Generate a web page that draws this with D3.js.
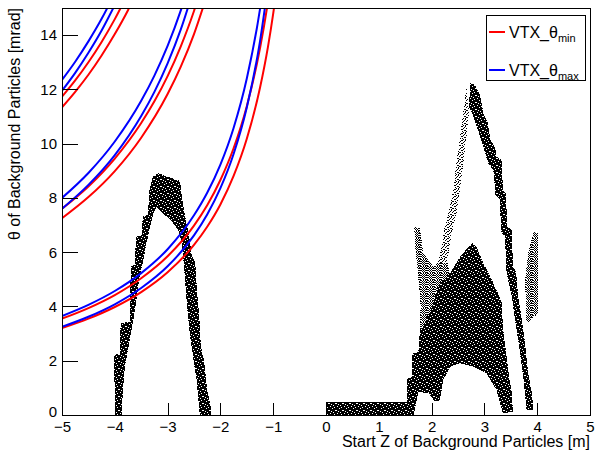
<!DOCTYPE html>
<html>
<head>
<meta charset="utf-8">
<script src="https://cdn.jsdelivr.net/npm/d3@7"></script>
<style>
body { margin: 0; background: #fff; }
text { font-family: "Liberation Sans", Arial, Helvetica, sans-serif; }
</style>
</head>
<body>
<svg id="chart" width="596" height="452"></svg>
<script>
// VTX acceptance curves, [start z (m), theta (mrad)]
const vtxMinCurves = [
  [[-5, 11.73], [-4.75, 12.33], [-4.5, 13.00], [-4.25, 13.75], [-4, 14.59], [-3.75, 15.54]],
  [[-5, 11.34], [-4.75, 11.91], [-4.5, 12.54], [-4.25, 13.25], [-4, 14.04], [-3.75, 14.92], [-3.5, 15.93]],
  [[-5, 7.60], [-4.5, 8.42], [-4, 9.45], [-3.5, 10.76], [-3.25, 11.56], [-3, 12.49], [-2.75, 13.59], [-2.5, 14.89], [-2.25, 16.47]],
  [[-5, 7.25], [-4.5, 8.03], [-4, 8.99], [-3.5, 10.22], [-3, 11.83], [-2.75, 12.84], [-2.5, 14.04], [-2.25, 15.50]],
  [[-5, 3.55], [-4.5, 3.94], [-4, 4.42], [-3.5, 5.04], [-3, 5.85], [-2.5, 6.98], [-2.25, 7.73], [-2, 8.66], [-1.75, 9.83], [-1.5, 11.38], [-1.25, 13.51], [-1.1, 15.22], [-1, 16.62]],
  [[-5, 3.20], [-4.5, 3.55], [-4, 3.98], [-3.5, 4.53], [-3, 5.26], [-2.5, 6.27], [-2.25, 6.94], [-2, 7.76], [-1.75, 8.81], [-1.5, 10.18], [-1.25, 12.06], [-1.1, 13.56], [-1, 14.79], [-0.9, 16.27]]
];
const vtxMaxCurves = [
  [[-5, 12.35], [-4.75, 13.02], [-4.5, 13.77], [-4.25, 14.60], [-4, 15.55]],
  [[-5, 11.95], [-4.75, 12.61], [-4.5, 13.35], [-4.25, 14.17], [-4, 15.11]],
  [[-5, 8.00], [-4.5, 8.92], [-4, 10.08], [-3.5, 11.58], [-3.25, 12.51], [-3, 13.60], [-2.75, 14.91], [-2.5, 16.49]],
  [[-5, 7.60], [-4.5, 8.48], [-4, 9.58], [-3.5, 11.02], [-3.25, 11.91], [-3, 12.96], [-2.75, 14.21], [-2.5, 15.73]],
  [[-5, 3.65], [-4.5, 4.06], [-4, 4.57], [-3.5, 5.23], [-3, 6.11], [-2.5, 7.36], [-2.25, 8.19], [-2, 9.23], [-1.75, 10.58], [-1.5, 12.40], [-1.25, 14.96], [-1.1, 17.08]],
  [[-5, 3.25], [-4.5, 3.62], [-4, 4.08], [-3.5, 4.68], [-3, 5.48], [-2.5, 6.62], [-2.25, 7.39], [-2, 8.36], [-1.75, 9.62], [-1.5, 11.33], [-1.25, 13.77], [-1.1, 15.82]]
];

// outlines of the background particle clouds, [z, theta]
const leftArch = [
  [-4.00, 0], [-4.01, 2.21], [-3.90, 2.27], [-3.89, 3.38], [-3.71, 3.44], [-3.70, 5.47], [-3.62, 5.53],
  [-3.60, 6.57], [-3.49, 6.63], [-3.47, 7.31], [-3.37, 7.37], [-3.35, 8.23], [-3.28, 8.78], [-3.18, 8.91],
  [-2.95, 8.75], [-2.80, 8.66], [-2.765, 8.60], [-2.71, 7.80], [-2.65, 7.13], [-2.59, 6.57], [-2.54, 5.83],
  [-2.48, 5.71], [-2.44, 4.48], [-2.40, 3.62], [-2.37, 2.52], [-2.31, 2.03], [-2.25, 0.92], [-2.18, 0.25],
  [-2.17, 0], [-2.39, 0], [-2.45, 1.29], [-2.51, 2.03], [-2.58, 3.01], [-2.63, 3.99], [-2.67, 4.98],
  [-2.70, 5.71], [-2.73, 6.33], [-2.80, 6.82], [-2.92, 7.13], [-3.05, 7.37], [-3.21, 7.68], [-3.27, 7.43],
  [-3.33, 6.94], [-3.40, 6.33], [-3.46, 5.71], [-3.54, 4.98], [-3.59, 4.24], [-3.65, 3.50], [-3.74, 2.52],
  [-3.81, 1.78], [-3.85, 0.80], [-3.87, 0]
];
const flatBand = [[0, 0], [0, 0.48], [1.6, 0.48], [1.6, 0]];
const core = [
  [1.54, 0], [1.54, 1.35], [1.62, 1.41], [1.64, 2.27], [1.75, 2.33], [1.78, 3.13], [1.88, 3.38], [1.91, 3.87],
  [2.03, 4.36], [2.16, 4.85], [2.35, 5.22], [2.54, 5.83], [2.70, 6.20], [2.78, 6.33], [2.85, 6.20],
  [2.98, 5.59], [3.11, 5.10], [3.23, 4.61], [3.33, 4.12], [3.35, 3.25], [3.39, 2.64], [3.45, 1.66],
  [3.52, 0.80], [3.54, 0.12], [3.35, 0.06], [3.23, 0.92], [3.04, 1.54], [2.79, 1.78], [2.54, 1.91],
  [2.35, 1.78], [2.22, 1.29], [2.16, 0.55], [2.06, 0.49], [1.95, 0.80], [1.75, 0.85], [1.66, 0]
];
const coreSpeckle = [
  [1.78, 3.13], [1.88, 3.38], [1.91, 3.87], [2.03, 4.36], [2.16, 4.85], [2.35, 5.22], [2.30, 5.60],
  [2.10, 5.60], [1.95, 5.20], [1.80, 4.60]
];
const rightBand = [
  [2.73, 12.23], [2.82, 12.16], [2.92, 11.80], [2.98, 11.12], [3.07, 10.75], [3.11, 10.14], [3.20, 9.89],
  [3.23, 9.52], [3.33, 9.40], [3.35, 8.29], [3.41, 8.17], [3.43, 6.94], [3.52, 6.82], [3.54, 5.47],
  [3.60, 5.28], [3.64, 4.36], [3.71, 3.50], [3.77, 2.64], [3.83, 1.54], [3.90, 0.80], [3.93, 0.18],
  [3.80, 0.18], [3.74, 1.29], [3.66, 2.52], [3.58, 3.50], [3.52, 4.36], [3.42, 5.22], [3.39, 6.57],
  [3.31, 6.76], [3.30, 7.92], [3.21, 8.11], [3.17, 9.03], [3.07, 9.28], [2.98, 9.89], [2.88, 10.50],
  [2.79, 11.00], [2.71, 11.36]
];
const upperLeftBand = [
  [2.66, 12.10], [2.60, 11.12], [2.54, 10.26], [2.47, 9.28], [2.41, 8.29], [2.32, 7.43], [2.25, 6.94],
  [2.19, 6.20], [2.13, 5.71], [2.06, 5.22], [2.25, 5.22], [2.32, 5.96], [2.38, 6.70], [2.47, 7.43],
  [2.54, 8.29], [2.60, 9.28], [2.66, 10.26], [2.71, 11.12]
];
const leftSpike = [
  [1.67, 6.94], [1.78, 6.88], [1.84, 5.96], [2.03, 5.47], [2.16, 4.98], [1.97, 3.75], [1.81, 3.50],
  [1.78, 4.36], [1.73, 5.47], [1.69, 6.20]
];
const farRightBand = [
  [3.93, 6.76], [4.02, 6.70], [4.02, 3.75], [3.80, 3.38], [3.77, 4.98], [3.83, 5.96]
];

const xTicks = [-5, -4, -3, -2, -1, 0, 1, 2, 3, 4, 5];
const yTicks = [0, 2, 4, 6, 8, 10, 12, 14];
const legendLabels = [["VTX_θ", "min"], ["VTX_θ", "max"]];

const W = 596, H = 452;
const margin = { top: 8, right: 6, bottom: 37, left: 62 };
const svg = d3.select("#chart");

const x = d3.scaleLinear().domain([-5, 5]).range([margin.left, W - margin.right]);
const y = d3.scaleLinear().domain([0, 15]).range([H - margin.bottom, margin.top]);

const defs = svg.append("defs");
defs.append("clipPath").attr("id", "plotclip")
  .append("rect")
  .attr("x", x(-5)).attr("y", y(15))
  .attr("width", x(5) - x(-5)).attr("height", y(0) - y(15));

// speckle textures for the scatter clouds (fixed hand-placed pixels)
function speckle(id, size, bg, fg, cells) {
  const p = defs.append("pattern").attr("id", id)
    .attr("width", size).attr("height", size)
    .attr("patternUnits", "userSpaceOnUse");
  p.append("rect").attr("width", size).attr("height", size).attr("fill", bg);
  cells.forEach(function (c) {
    p.append("rect").attr("x", c[0]).attr("y", c[1])
      .attr("width", 1).attr("height", 1).attr("fill", fg);
  });
}
speckle("dense", 7, "#000", "#fff",
  [[1, 0], [5, 1], [3, 2], [0, 4], [6, 4], [2, 5], [4, 6]]);
speckle("medium", 7, "#fff", "#000",
  [[0, 0], [1, 0], [3, 0], [5, 0], [2, 1], [4, 1], [6, 1], [0, 2], [1, 2], [3, 2], [5, 2], [6, 2],
   [2, 3], [4, 3], [0, 4], [1, 4], [3, 4], [5, 4], [6, 4], [2, 5], [4, 5], [0, 6], [3, 6], [5, 6], [6, 6]]);
speckle("sparse", 7, "#fff", "#000",
  [[0, 0], [3, 0], [5, 1], [1, 2], [4, 2], [6, 3], [2, 4], [3, 4], [0, 5], [5, 5], [3, 6], [1, 6],
   [6, 0], [2, 1], [4, 5], [0, 3]]);

const plot = svg.append("g").attr("clip-path", "url(#plotclip)");

const area = d3.line().x(d => x(d[0])).y(d => y(d[1]));
[[leftArch, "dense"], [flatBand, "dense"], [core, "dense"], [rightBand, "dense"],
 [upperLeftBand, "sparse"], [leftSpike, "medium"], [farRightBand, "medium"], [coreSpeckle, "medium"]]
  .forEach(function (r) {
    plot.append("path")
      .attr("d", area(r[0]) + "Z")
      .attr("fill", "url(#" + r[1] + ")")
      .attr("shape-rendering", "crispEdges");
  });

const curve = d3.line().x(d => x(d[0])).y(d => y(d[1])).curve(d3.curveMonotoneX);
vtxMinCurves.forEach(function (c) {
  plot.append("path").attr("d", curve(c))
    .attr("fill", "none").attr("stroke", "#ff0000").attr("stroke-width", 2);
});
vtxMaxCurves.forEach(function (c) {
  plot.append("path").attr("d", curve(c))
    .attr("fill", "none").attr("stroke", "#0000ff").attr("stroke-width", 2);
});

// frame
svg.append("rect")
  .attr("x", x(-5)).attr("y", y(15))
  .attr("width", x(5) - x(-5)).attr("height", y(0) - y(15))
  .attr("fill", "none").attr("stroke", "#000").attr("stroke-width", 1)
  .attr("shape-rendering", "crispEdges");

// axes (ROOT style: ticks pointing inward)
const plotW = x(5) - x(-5), plotH = y(0) - y(15);
const gx = svg.append("g").attr("transform", "translate(0," + y(0) + ")");
gx.call(d3.axisBottom(x).tickValues(d3.range(-5, 5.001, 0.2)).tickSize(-plotH * 0.015).tickFormat(""));
gx.call(d3.axisBottom(x).tickValues(xTicks).tickSize(-plotH * 0.03).tickPadding(6));
const gy = svg.append("g").attr("transform", "translate(" + x(-5) + ",0)");
gy.call(d3.axisLeft(y).tickValues(d3.range(0, 15.001, 0.5)).tickSize(-plotW * 0.015).tickFormat(""));
gy.call(d3.axisLeft(y).tickValues(yTicks).tickSize(-plotW * 0.03).tickPadding(5));
[gx, gy].forEach(function (g) {
  g.selectAll(".domain").remove();
  g.selectAll("line").attr("stroke", "#000").attr("shape-rendering", "crispEdges");
  g.selectAll("text").attr("font-size", 15).attr("fill", "#000")
    .style("font-family", '"Liberation Sans", Arial, sans-serif');
});
// lift the "0" label a little so it clears the first x label
gy.selectAll(".tick text").filter(d => d === 0).attr("y", -3);

svg.append("text")
  .attr("x", x(5)).attr("y", 447)
  .attr("text-anchor", "end").attr("font-size", 16)
  .text("Start Z of Background Particles [m]");
svg.append("text")
  .attr("transform", "translate(20," + y(15) + ") rotate(-90)")
  .attr("text-anchor", "end").attr("font-size", 16)
  .text("θ of Background Particles [mrad]");

// legend
const lg = svg.append("g").attr("transform", "translate(486,15)");
lg.append("rect").attr("width", 99).attr("height", 65)
  .attr("fill", "#fff").attr("stroke", "#000").attr("shape-rendering", "crispEdges");
const legendColors = ["#ff0000", "#0000ff"];
legendLabels.forEach(function (l, i) {
  const cy = 17 + i * 38;
  lg.append("line").attr("x1", 3).attr("x2", 19).attr("y1", cy).attr("y2", cy)
    .attr("stroke", legendColors[i]).attr("stroke-width", 2);
  const t = lg.append("text").attr("x", 23).attr("y", cy + 6).attr("font-size", 16);
  t.append("tspan").text(l[0]);
  t.append("tspan").attr("font-size", 11).attr("dy", 4).text(l[1]);
});
</script>
</body>
</html>
